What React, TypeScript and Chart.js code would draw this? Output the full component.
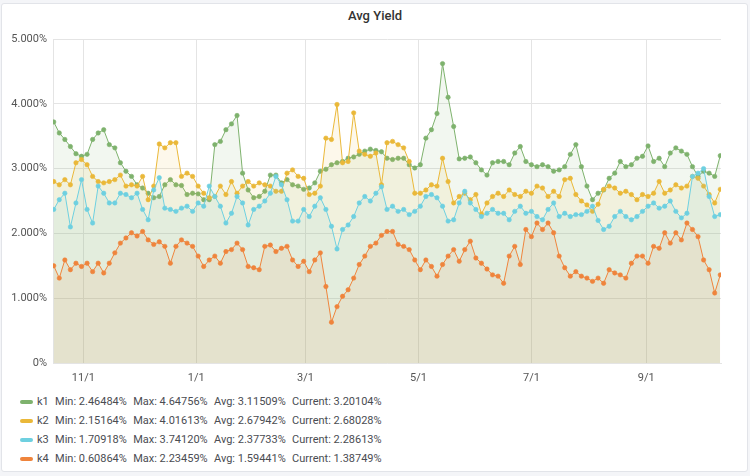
import React, { useEffect, useRef } from "react";
import { Chart, registerables } from "chart.js";
Chart.register(...registerables);

// ---- data ----
const startDate = "2018-10-16";
const stepDays = 3;
const tickDates = ["2018-11-01", "2019-01-01", "2019-03-01", "2019-05-01", "2019-07-01", "2019-09-01"];
const tickLabels = ["11/1", "1/1", "3/1", "5/1", "7/1", "9/1"];
const yTickValues = [0, 1, 2, 3, 4, 5];
const seriesNames = ["k1", "k2", "k3", "k4"];
const seriesColors = ["#7EB26D", "#EAB839", "#6ED0E0", "#EF843C"];

const k1 = [
  3.72, 3.55, 3.45, 3.34, 3.23, 3.19, 3.22, 3.45, 3.55, 3.6, 3.37, 3.32, 3.09, 2.96, 2.88, 2.75, 2.7, 2.62, 2.55, 2.57,
  2.75, 2.83, 2.75, 2.74, 2.6, 2.62, 2.61, 2.52, 2.52, 3.37, 3.42, 3.6, 3.69, 3.82, 2.93, 2.67, 2.55, 2.57, 2.65, 2.9,
  2.9, 2.78, 2.83, 2.75, 2.73, 2.68, 2.7, 2.78, 2.96, 2.99, 3.06, 3.09, 3.11, 3.16, 3.18, 3.22, 3.27, 3.3, 3.28, 3.26,
  3.16, 3.14, 3.16, 3.16, 3.06, 3.01, 3.06, 3.47, 3.6, 3.85, 4.62, 4.1, 3.65, 3.15, 3.16, 3.18, 3.09, 2.98, 2.9, 3.09,
  3.11, 3.11, 3.06, 3.24, 3.34, 3.11, 3.06, 3.03, 3.06, 3.03, 2.96, 2.98, 3.03, 3.22, 3.37, 3.03, 2.73, 2.52, 2.62, 2.67,
  2.85, 2.93, 3.11, 3.03, 3.06, 3.16, 3.19, 3.35, 3.11, 3.16, 3.03, 3.24, 3.32, 3.27, 3.22, 3.03, 2.88, 2.96, 2.93, 2.88,
  3.2,
];
const k2 = [
  2.8, 2.75, 2.83, 2.75, 3.09, 3.14, 3.06, 2.88, 2.8, 2.78, 2.8, 2.83, 2.9, 2.73, 2.75, 2.73, 2.88, 2.52, 2.73, 3.38,
  3.32, 3.4, 3.4, 2.88, 2.93, 2.88, 2.73, 2.62, 2.55, 2.57, 2.73, 2.6, 2.8, 2.62, 2.73, 2.8, 2.73, 2.78, 2.75, 2.73,
  2.65, 2.65, 2.93, 2.98, 2.88, 2.85, 2.6, 2.62, 2.73, 3.47, 3.45, 3.99, 3.09, 3.11, 3.86, 3.27, 3.22, 3.19, 3.24, 2.75,
  3.4, 3.42, 3.37, 3.32, 3.11, 2.62, 2.62, 2.67, 2.75, 2.73, 3.16, 2.8, 2.47, 2.57, 2.62, 2.52, 2.6, 2.3, 2.47, 2.57,
  2.62, 2.57, 2.67, 2.6, 2.57, 2.65, 2.62, 2.73, 2.7, 2.57, 2.65, 2.57, 2.83, 2.85, 2.6, 2.5, 2.44, 2.34, 2.45, 2.68,
  2.73, 2.7, 2.62, 2.65, 2.6, 2.52, 2.6, 2.57, 2.62, 2.8, 2.62, 2.67, 2.75, 2.7, 2.73, 2.88, 2.85, 2.73, 2.6, 2.47,
  2.68,
];
const k3 = [
  2.37, 2.52, 2.62, 2.1, 2.47, 2.83, 2.37, 2.16, 2.73, 2.62, 2.47, 2.47, 2.62, 2.6, 2.55, 2.62, 2.37, 2.21, 2.67, 2.86,
  2.39, 2.37, 2.34, 2.39, 2.42, 2.34, 2.47, 2.42, 2.73, 2.57, 2.42, 2.16, 2.31, 2.57, 2.47, 2.13, 2.37, 2.42, 2.5, 2.62,
  2.88, 2.75, 2.52, 2.19, 2.19, 2.37, 2.26, 2.42, 2.55, 2.37, 2.11, 1.76, 2.06, 2.13, 2.26, 2.47, 2.57, 2.5, 2.62, 2.72,
  2.37, 2.42, 2.34, 2.37, 2.29, 2.34, 2.42, 2.57, 2.6, 2.55, 2.42, 2.19, 2.21, 2.47, 2.65, 2.47, 2.37, 2.26, 2.31, 2.37,
  2.31, 2.31, 2.21, 2.34, 2.42, 2.31, 2.34, 2.26, 2.21, 2.37, 2.47, 2.26, 2.31, 2.26, 2.29, 2.29, 2.34, 2.42, 2.2, 2.06,
  2.11, 2.26, 2.34, 2.26, 2.21, 2.26, 2.34, 2.42, 2.47, 2.39, 2.42, 2.5, 2.34, 2.24, 2.31, 2.88, 2.93, 3.0, 2.57, 2.26,
  2.29,
];
const k4 = [
  1.5, 1.31, 1.59, 1.44, 1.54, 1.49, 1.54, 1.41, 1.54, 1.39, 1.54, 1.7, 1.85, 1.93, 2.01, 1.96, 2.03, 1.9, 1.83, 1.87,
  1.8, 1.54, 1.8, 1.9, 1.85, 1.8, 1.65, 1.49, 1.59, 1.65, 1.54, 1.72, 1.75, 1.85, 1.75, 1.49, 1.47, 1.44, 1.8, 1.82,
  1.72, 1.77, 1.8, 1.59, 1.49, 1.57, 1.41, 1.59, 1.7, 1.18, 0.63, 0.87, 1.03, 1.13, 1.31, 1.52, 1.65, 1.8, 1.85, 1.97,
  2.03, 2.03, 1.83, 1.8, 1.75, 1.59, 1.44, 1.59, 1.49, 1.34, 1.52, 1.65, 1.75, 1.57, 1.75, 1.88, 1.62, 1.54, 1.45, 1.36,
  1.34, 1.23, 1.65, 1.8, 1.52, 2.06, 1.95, 2.16, 2.06, 2.16, 2.01, 1.65, 1.47, 1.34, 1.41, 1.34, 1.31, 1.26, 1.31, 1.23,
  1.44, 1.39, 1.36, 1.31, 1.54, 1.65, 1.65, 1.54, 1.8, 1.77, 2.01, 1.85, 2.01, 1.9, 2.16, 2.06, 1.95, 1.59, 1.44, 1.08,
  1.36,
];
const seriesValues = [k1, k2, k3, k4];

const legendMin = ["2.46484%", "2.15164%", "1.70918%", "0.60864%"];
const legendMax = ["4.64756%", "4.01613%", "3.74120%", "2.23459%"];
const legendAvg = ["3.11509%", "2.67942%", "2.37733%", "1.59441%"];
const legendCurrent = ["3.20104%", "2.68028%", "2.28613%", "1.38749%"];

const FONT = "Roboto, Helvetica, Arial, sans-serif";

function dayOffset(iso: string): number {
  const [y, m, d] = iso.split("-").map(Number);
  const [sy, sm, sd] = startDate.split("-").map(Number);
  return (Date.UTC(y, m - 1, d) - Date.UTC(sy, sm - 1, sd)) / 86400000;
}

function hexA(hex: string, a: number): string {
  const n = parseInt(hex.slice(1), 16);
  return `rgba(${(n >> 16) & 255},${(n >> 8) & 255},${n & 255},${a})`;
}

export default function App() {
  const ref = useRef<HTMLCanvasElement | null>(null);

  useEffect(() => {
    if (!ref.current) return;
    const tickDays = tickDates.map(dayOffset);
    const lastX = (k1.length - 1) * stepDays;
    const datasets = seriesNames.map((name, i) => ({
      label: name,
      data: seriesValues[i].map((v, j) => ({ x: j * stepDays, y: v })),
      borderColor: seriesColors[i],
      backgroundColor: hexA(seriesColors[i], 0.1),
      pointBackgroundColor: seriesColors[i],
      pointBorderColor: seriesColors[i],
      pointRadius: 2.2,
      pointBorderWidth: 0.6,
      borderWidth: 1,
      fill: "origin",
      tension: 0,
      order: seriesNames.length - i,
    }));
    const grid = "#e4e4e4";
    const chart = new Chart(ref.current, {
      type: "line",
      data: { datasets },
      options: {
        animation: false,
        responsive: false,
        devicePixelRatio: 1,
        layout: { padding: { top: 39, right: 29, left: 0, bottom: 0 } },
        plugins: { legend: { display: false }, tooltip: { enabled: false }, title: { display: false } },
        scales: {
          x: {
            type: "linear",
            min: -0.4,
            max: lastX + 0.4,
            afterBuildTicks: (scale: any) => {
              scale.ticks = tickDays.map((v) => ({ value: v }));
            },
            afterFit: (scale: any) => {
              scale.height = 22;
            },
            ticks: {
              autoSkip: false,
              maxRotation: 0,
              padding: 9,
              color: "#555",
              font: { family: FONT, size: 11 },
              callback: (_v: any, idx: number) => tickLabels[idx],
            },
            grid: { color: grid, drawTicks: false },
            border: { color: grid },
          },
          y: {
            type: "linear",
            min: 0,
            max: 5,
            afterBuildTicks: (scale: any) => {
              scale.ticks = yTickValues.map((v) => ({ value: v }));
            },
            afterFit: (scale: any) => {
              scale.width = 53;
            },
            ticks: {
              padding: 6,
              color: "#555",
              font: { family: FONT, size: 11 },
              callback: (v: any) => (Number(v) === 0 ? "0%" : Number(v).toFixed(3) + "%"),
            },
            grid: { color: grid, drawTicks: false },
            border: { color: grid },
          },
        },
      },
    });
    return () => chart.destroy();
  }, []);

  return (
    <div style={{ position: "fixed", left: 0, top: 0, width: 750, height: 476, background: "#f4f5f8", fontFamily: FONT }}>
      <div
        style={{
          position: "absolute",
          left: 1,
          top: 3,
          width: 745,
          height: 467,
          background: "#fff",
          border: "1px solid #e2e4e9",
          borderRadius: 3,
        }}
      />
      <div
        style={{
          position: "absolute",
          left: 0,
          top: 6,
          width: 750,
          height: 20,
          lineHeight: "20px",
          textAlign: "center",
          fontSize: 13,
          fontWeight: 500,
          color: "#333",
        }}
      >
        Avg Yield
      </div>
      <canvas ref={ref} width={750} height={385} style={{ position: "absolute", left: 0, top: 0, width: 750, height: 385 }} />
      <div style={{ position: "absolute", left: 20, top: 392, fontSize: 11, color: "#4a4c52" }}>
        {seriesNames.map((name, i) => (
          <div key={name} style={{ height: 19, lineHeight: "19px", whiteSpace: "nowrap", display: "flex", alignItems: "center" }}>
            <span style={{ display: "inline-block", width: 13, height: 4, borderRadius: 2, background: seriesColors[i], marginRight: 4 }} />
            <span>{name}</span>
            <span style={{ marginLeft: 6.3 }}>Min: {legendMin[i]}</span>
            <span style={{ marginLeft: 6.3 }}>Max: {legendMax[i]}</span>
            <span style={{ marginLeft: 6.3 }}>Avg: {legendAvg[i]}</span>
            <span style={{ marginLeft: 6.3 }}>Current: {legendCurrent[i]}</span>
          </div>
        ))}
      </div>
    </div>
  );
}
